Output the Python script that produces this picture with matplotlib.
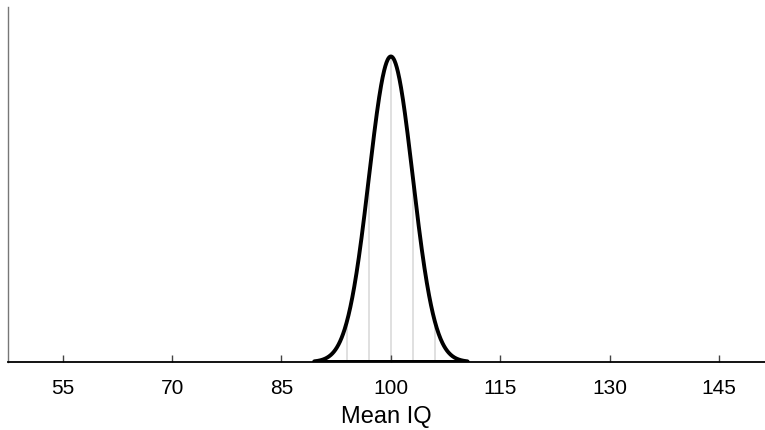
import numpy as np
import matplotlib.pyplot as plt

plt.rcParams['font.family'] = ['Liberation Sans', 'DejaVu Sans']

# sampling distribution of the mean IQ
mu = 100
se = 3
ticks = [55, 70, 85, 100, 115, 130, 145]
sd_lines = [94, 97, 100, 103, 106]
x_lo, x_hi = 89.5, 110.5

x = np.linspace(x_lo, x_hi, 400)
y = np.exp(-0.5 * ((x - mu) / se) ** 2) / (se * np.sqrt(2 * np.pi))

fig = plt.figure(figsize=(7.65, 4.30), dpi=100)
ax = fig.add_axes([8.3 / 765, (430 - 362) / 430, 1 - 8.3 / 765, (362 - 7) / 430])

for v in sd_lines:
    h = np.exp(-0.5 * ((v - mu) / se) ** 2) / (se * np.sqrt(2 * np.pi))
    ax.plot([v, v], [0, h], color='#dddddd', lw=1.3, zorder=1)

ax.plot(x, y, color='black', lw=2.8, zorder=3, solid_capstyle='round')
ax.plot([x_lo, x_hi], [0, 0], color='black', lw=3.6, zorder=3, solid_capstyle='round')

ax.set_xlim(47.54, 151.3)
ax.set_ylim(0, 0.1545)
ax.set_xticks(ticks)
ax.set_yticks([])
ax.tick_params(axis='x', direction='in', length=5, width=1, color='#444444',
               labelsize=15, pad=12)
ax.set_xlabel('Mean IQ', fontsize=17, labelpad=6)

ax.spines['top'].set_visible(False)
ax.spines['right'].set_visible(False)
ax.spines['left'].set_color('#777777')
ax.spines['left'].set_linewidth(1)
ax.spines['bottom'].set_linewidth(1.3)

plt.savefig('out.png', dpi=100)
